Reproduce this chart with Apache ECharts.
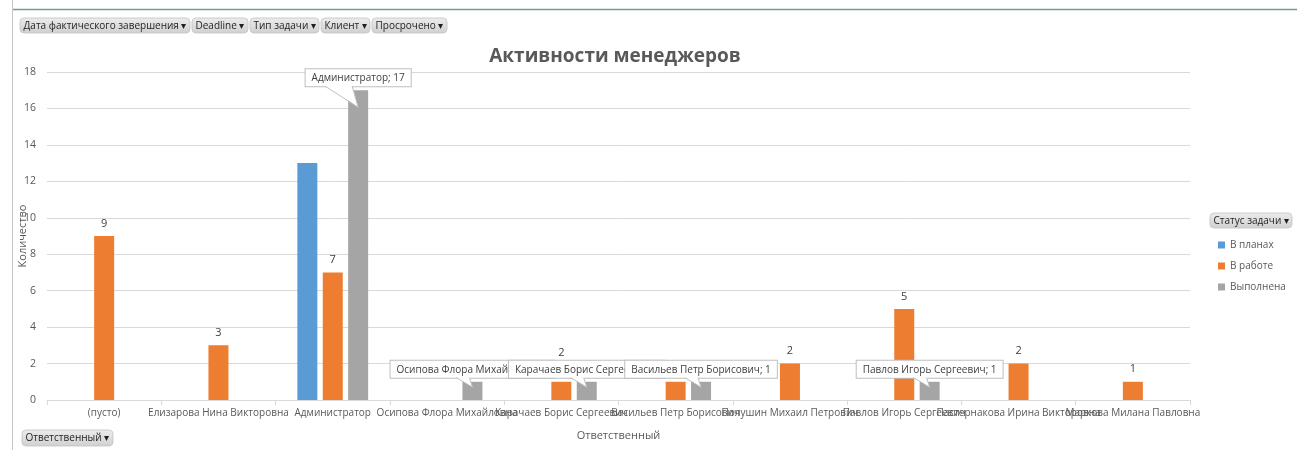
<!DOCTYPE html>
<html>
<head>
<meta charset="utf-8">
<script src="https://cdn.jsdelivr.net/npm/echarts@6/dist/echarts.min.js"></script>
<style>
  html, body { margin: 0; padding: 0; background: #fff; }
  #chart { width: 1297px; height: 450px; }
</style>
</head>
<body>
<div id="chart"></div>
<script>
// Responsible people (category axis)
const managers = [
  '(пусто)',
  'Елизарова Нина Викторовна',
  'Администратор',
  'Осипова Флора Михайловна',
  'Карачаев Борис Сергеевич',
  'Васильев Петр Борисович',
  'Полушин Михаил Петрович',
  'Павлов Игорь Сергеевич',
  'Пастернакова Ирина Викторовна',
  'Маркова Милана Павловна'
];

// Task counts per status
const planned   = [null, null, 13, null, null, null, null, null, null, null];
const inWork    = [9, 3, 7, null, 1, 1, 2, 5, 2, 1];
const completed = [null, null, 17, 1, 1, 1, null, 1, null, null];

// Text shown above the "В работе" bars
const inWorkLabels = ['9', '3', '7', '', '2', '', '2', '5', '2', '1'];

const statusNames = ['В планах', 'В работе', 'Выполнена'];
const filterFields = ['Дата фактического завершения', 'Deadline', 'Тип задачи', 'Клиент', 'Просрочено'];
const axisField = 'Ответственный';
const legendField = 'Статус задачи';

const FONT = '"Open Sans", "Noto Sans", sans-serif';
const TXT = '#595959';
const CALLOUT_BORDER = '#bfbfbf';
const CALLOUT_GAP = 4;

const chart = echarts.init(document.getElementById('chart'), null, { renderer: 'canvas' });

// measure text for the pivot field buttons
const ctx = document.createElement('canvas').getContext('2d');
function textW(s, size) { ctx.font = size + 'px ' + FONT; return ctx.measureText(s).width; }

function fieldButton(label, x, y, h) {
  const t = label + ' \u25BE';
  const w = Math.round(textW(t, 10) + 7);
  return {
    w: w,
    el: {
      type: 'group', x: x, y: y,
      children: [
        { type: 'rect', shape: { x: 0, y: 0, width: w, height: h, r: 4 },
          style: { fill: new echarts.graphic.LinearGradient(0, 0, 0, 1, [
            { offset: 0, color: '#ececec' }, { offset: 1, color: '#d0d0d0' }]),
            stroke: '#c4c4c4', lineWidth: 0.5 } },
        { type: 'text', x: 3.5, y: h / 2 + 0.5,
          style: { text: t, font: '10px ' + FONT, fill: '#1f1f1f', textVerticalAlign: 'middle' } }
      ]
    }
  };
}

const graphics = [
  { type: 'line', shape: { x1: 12.5, y1: 0, x2: 12.5, y2: 450 }, style: { stroke: '#c6c6c6', lineWidth: 1 } },
  { type: 'line', shape: { x1: 13, y1: 9.5, x2: 1297, y2: 9.5 }, style: { stroke: '#6f9e84', lineWidth: 1.5 } }
];
let bx = 20;
filterFields.forEach(f => {
  const b = fieldButton(f, bx, 18, 15);
  graphics.push(b.el);
  bx += b.w + 2;
});
graphics.push(fieldButton(axisField, 22, 430, 16).el);
graphics.push(fieldButton(legendField, 1210, 213, 15).el);

const labelCompleted = {
  show: true,
  position: 'top',
  distance: CALLOUT_GAP,
  formatter: p => p.name + '; ' + p.value,
  fontFamily: FONT,
  fontSize: 10,
  color: '#404040',
  backgroundColor: '#ffffff',
  borderColor: CALLOUT_BORDER,
  borderWidth: 1,
  padding: [4, 6, 3, 6]
};

const option = {
  animation: false,
  textStyle: { fontFamily: FONT },
  title: {
    text: 'Активности менеджеров',
    left: 610, top: 42, textAlign: 'center',
    textStyle: { fontFamily: FONT, fontSize: 19, fontWeight: 'bold', color: TXT }
  },
  legend: {
    orient: 'vertical',
    left: 1213, top: 234,
    icon: 'rect',
    itemWidth: 7, itemHeight: 7,
    itemGap: 9,
    textStyle: { fontFamily: FONT, fontSize: 10, color: TXT, lineHeight: 12 },
    data: statusNames
  },
  grid: { left: 47, right: 107, top: 72, bottom: 50, containLabel: false, outerBoundsMode: 'none' },
  xAxis: {
    type: 'category',
    data: managers,
    name: axisField,
    nameLocation: 'middle',
    nameGap: 30,
    nameMoveOverlap: false,
    nameTextStyle: { fontFamily: FONT, fontSize: 11, color: TXT },
    axisLine: { lineStyle: { color: '#d9d9d9' } },
    axisTick: { show: true, length: 5, lineStyle: { color: '#d9d9d9' } },
    axisLabel: { interval: 0, margin: 8, fontFamily: FONT, fontSize: 10, color: TXT, hideOverlap: false }
  },
  yAxis: {
    type: 'value',
    min: 0, max: 18, interval: 2,
    name: 'Количество',
    nameLocation: 'middle',
    nameGap: 19,
    nameMoveOverlap: false,
    nameRotate: 90,
    nameTextStyle: { fontFamily: FONT, fontSize: 11, color: TXT },
    axisLine: { show: false },
    axisTick: { show: false },
    axisLabel: { margin: 11, fontFamily: FONT, fontSize: 10.5, color: TXT },
    splitLine: { lineStyle: { color: '#d9d9d9' } }
  },
  series: [
    {
      name: statusNames[0], type: 'bar', data: planned,
      barWidth: 20, barGap: '27%',
      itemStyle: { color: '#5b9bd5' }
    },
    {
      name: statusNames[1], type: 'bar', data: inWork,
      barWidth: 20, barGap: '27%',
      itemStyle: { color: '#ed7d31' },
      label: {
        show: true, position: 'top', distance: 7,
        formatter: p => inWorkLabels[p.dataIndex],
        fontFamily: FONT, fontSize: 11, color: '#404040'
      },
      labelLayout: p => p.dataIndex === 4 ? { dy: -16 } : null
    },
    {
      name: statusNames[2], type: 'bar', data: completed,
      barWidth: 20, barGap: '27%',
      itemStyle: { color: '#a5a5a5' },
      label: labelCompleted
    }
  ],
  graphic: graphics
};

chart.setOption(option);

// Callout pointers: a small wedge from the bottom of each "Выполнена" callout into its bar
const doneData = chart.getModel().getSeriesByIndex(2).getData();
const wedges = [];
completed.forEach((v, i) => {
  if (v == null) return;
  const r = doneData.getItemLayout(i);
  const cx = r.x + r.width / 2;
  const top = r.y + r.height;
  const h = Math.abs(r.height);
  const boxBottom = top - CALLOUT_GAP;
  const tipY = top + Math.min(17, h * 0.3);
  const baseL = cx - (h > 40 ? 33 : 16);
  const baseR = cx - (h > 40 ? 6 : 3);
  wedges.push({
    type: 'polygon', z: 100,
    shape: { points: [[baseL, boxBottom - 0.5], [cx, tipY], [baseR, boxBottom - 0.5]] },
    style: { fill: '#ffffff', stroke: null }
  });
  wedges.push({
    type: 'polyline', z: 101,
    shape: { points: [[baseL, boxBottom], [cx, tipY], [baseR, boxBottom]] },
    style: { stroke: CALLOUT_BORDER, lineWidth: 1, fill: null }
  });
});
chart.setOption({ graphic: graphics.concat(wedges) });
</script>
</body>
</html>
